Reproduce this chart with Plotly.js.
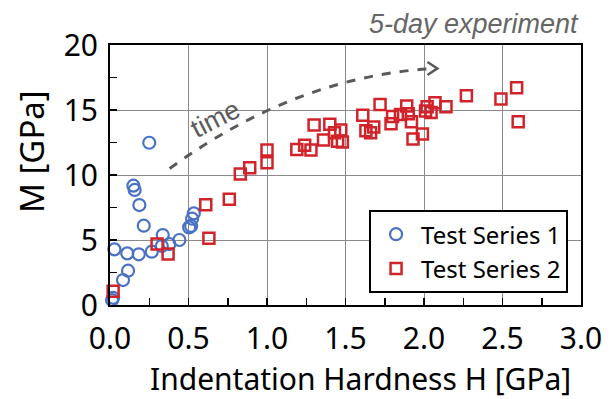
<!DOCTYPE html>
<html><head><meta charset="utf-8">
<script src="https://cdn.plot.ly/plotly-3.0.1.min.js"></script>
<style>html,body{margin:0;padding:0;background:#fff}#c{width:616px;height:399px}</style>
</head><body><div id="c"></div>
<script>
const s1_x = [0.25,0.149,0.157,0.187,0.215,0.028,0.11,0.183,0.266,0.336,0.33,0.378,0.442,0.504,0.517,0.523,0.534,0.115,0.083,0.013,0.02];
const s1_y = [12.48,9.18,8.85,7.69,6.1,4.28,3.97,3.9,4.1,5.38,4.54,4.69,5.0,5.97,6.08,6.64,7.05,2.64,1.92,0.38,0.55];
const s2_x = [0.02,0.30,0.37,0.61,0.63,0.76,0.83,0.89,1.0,1.0,1.19,1.24,1.28,1.3,1.36,1.4,1.43,1.45,1.47,1.48,1.61,1.63,1.66,1.68,1.72,1.79,1.80,1.85,1.89,1.90,1.92,1.93,1.99,2.01,2.02,2.045,2.07,2.14,2.27,2.49,2.59,2.6];
const s2_y = [1.05,4.7,3.92,7.72,5.13,8.13,10.08,10.56,10.95,11.92,11.97,12.28,11.92,13.85,12.69,13.9,13.25,12.6,13.46,12.54,14.6,13.4,13.25,13.7,15.43,13.95,14.5,14.65,15.3,14.72,14.1,12.76,13.15,14.93,15.25,14.8,15.56,15.25,16.1,15.85,16.72,14.1];
const seriesNames = ["Test Series 1","Test Series 2"];
const xTicks = [0,0.5,1.0,1.5,2.0,2.5,3.0];
const xTickText = ["0.0","0.5","1.0","1.5","2.0","2.5","3.0"];
const yTicks = [0,5,10,15,20];

const F = "'Noto Sans', 'Open Sans', sans-serif";
const A = "'Liberation Sans', Arial, sans-serif";
const traces = [
  {x:s1_x,y:s1_y,name:seriesNames[0],type:'scatter',mode:'markers',
   marker:{symbol:'circle-open',size:12,color:'#4a72c4',line:{width:2.2}},cliponaxis:false},
  {x:s2_x,y:s2_y,name:seriesNames[1],type:'scatter',mode:'markers',
   marker:{symbol:'square-open',size:11,color:'#d2232a',line:{width:2.5}},cliponaxis:false}
];
const axBase = {showline:true,mirror:true,linecolor:'#000',linewidth:2,
  showgrid:true,gridcolor:'#8a8a8a',gridwidth:1,zeroline:false,automargin:false,
  ticks:'inside',ticklen:7,tickwidth:1.5,tickcolor:'#000',
  tickfont:{family:F,size:30,color:'#000'}};
const layout = {
  width:616,height:399,margin:{l:110,r:35,t:45,b:94},
  paper_bgcolor:'#fff',plot_bgcolor:'#fff',
  xaxis:Object.assign({},axBase,{range:[0,3],tickvals:xTicks,ticktext:xTickText,ticklabelstandoff:6,
    minor:{ticks:'inside',dtick:0.25,ticklen:7,tickcolor:'#000',showgrid:false}}),
  yaxis:Object.assign({},axBase,{range:[0,20],tickvals:yTicks,ticklabelstandoff:4,
    minor:{ticks:'inside',dtick:2.5,ticklen:7,tickcolor:'#000',showgrid:false}}),
  legend:{x:0.55,y:0.365,xanchor:'left',yanchor:'top',bgcolor:'#fff',bordercolor:'#000',borderwidth:2,
    font:{family:F,size:24,color:'#000'},itemwidth:40,tracegroupgap:0},
  shapes:[
    {type:'path',xref:'x',yref:'y',path:'M 0.38 10.5 Q 1.2 17.7 2.08 18.2',
     line:{color:'#5a5a5a',width:3,dash:'dash'}},
    {type:'path',xref:'x',yref:'y',path:'M 2.022 18.69 L 2.085 18.2 L 2.022 17.69',
     line:{color:'#5a5a5a',width:2.5}}
  ],
  annotations:[
    {text:'5-day experiment',xref:'paper',yref:'paper',x:1,y:1.0,xanchor:'right',yanchor:'bottom',yshift:4,
     showarrow:false,font:{family:A,size:27,color:'#666',style:'italic'}},
    {text:'time',xref:'x',yref:'y',x:0.67,y:14.3,showarrow:false,textangle:-27,
     font:{family:A,size:27,color:'#5a5a5a'}},
    {text:'Indentation Hardness H [GPa]',xref:'paper',yref:'paper',x:(360-110)/471,y:-(378-305)/260,
     xanchor:'center',yanchor:'middle',showarrow:false,font:{family:F,size:30,color:'#000'}},
    {text:'M [GPa]',xref:'paper',yref:'paper',x:-(110-31)/471,y:(305-152)/260,textangle:-90,
     xanchor:'center',yanchor:'middle',showarrow:false,font:{family:F,size:33,color:'#000'}}
  ],
  showlegend:true
};
Plotly.newPlot('c',traces,layout,{staticPlot:true});
</script></body></html>
